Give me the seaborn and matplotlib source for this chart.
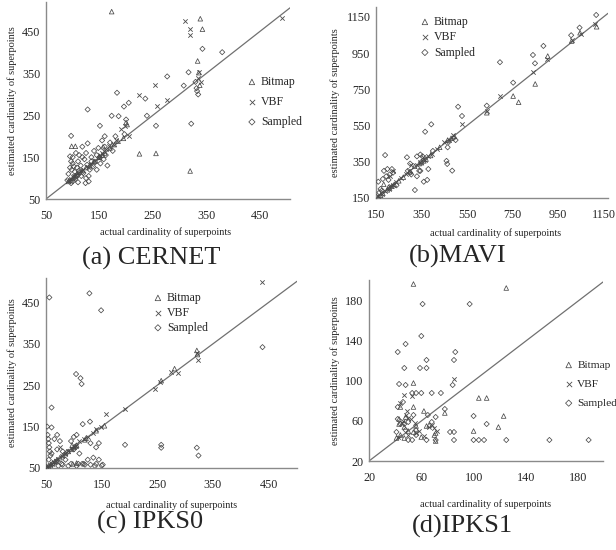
import numpy as np
import pandas as pd
import matplotlib
matplotlib.use("Agg")
import matplotlib.pyplot as plt
import seaborn as sns

# (actual, estimated) pairs
cernet_bitmap = [(98, 176), (105, 176), (173, 498), (339, 481), (343, 456), (334, 380), (336, 352),
                 (338, 322), (225, 158), (256, 159), (320, 117), (200, 233), (202, 228), (92, 92),
                 (95, 95), (100, 100), (102, 103), (105, 106), (108, 110), (112, 114), (118, 118),
                 (125, 125), (132, 130), (140, 140), (150, 150), (155, 155), (157, 175), (160, 160),
                 (170, 172), (178, 180), (185, 188), (195, 195)]
cernet_vbf = [(311, 475), (319, 456), (320, 442), (337, 353), (334, 340), (340, 330), (254, 322),
              (225, 298), (276, 286), (258, 272), (492, 483), (92, 93), (96, 97), (100, 102),
              (103, 104), (107, 108), (110, 112), (115, 116), (120, 120), (128, 126), (135, 133),
              (142, 140), (150, 148), (152, 155), (155, 160), (158, 165), (162, 170), (168, 176),
              (175, 182), (182, 190), (190, 218), (198, 224), (205, 200)]
cernet_sampled = [(380, 401), (343, 409), (317, 353), (277, 343), (322, 230), (183, 304), (128, 264),
                  (239, 249), (256, 225), (97, 201), (205, 280), (173, 249), (308, 321), (333, 308),
                  (332, 315), (151, 225), (196, 271), (200, 240), (197, 205), (186, 248), (330, 330),
                  (335, 300), (236, 290), (90, 95), (92, 110), (95, 152), (97, 88), (98, 120),
                  (100, 135), (100, 92), (102, 128), (104, 115), (105, 98), (106, 160), (108, 125),
                  (110, 140), (110, 90), (112, 118), (115, 130), (116, 105), (118, 150), (120, 112),
                  (122, 145), (124, 88), (125, 160), (127, 132), (128, 183), (130, 92), (132, 120),
                  (135, 150), (138, 128), (140, 165), (142, 138), (145, 120), (148, 172), (150, 150),
                  (152, 135), (155, 190), (158, 145), (160, 175), (162, 155), (165, 130), (170, 185),
                  (175, 165), (180, 200), (100, 150), (95, 125), (108, 105), (118, 175), (130, 105),
                  (145, 155), (160, 200), (97, 140), (112, 155), (125, 100), (135, 140)]

mavi_bitmap = [(160, 155), (170, 165), (180, 175), (184, 226), (200, 195), (210, 205), (220, 215),
               (230, 225), (250, 245), (270, 265), (300, 295), (320, 325), (340, 340), (350, 345),
               (360, 355), (370, 365), (390, 385), (430, 430), (465, 470), (480, 480), (495, 490),
               (637, 621), (753, 713), (777, 679), (850, 780), (905, 934), (1010, 1017),
               (1047, 1063), (1120, 1096), (205, 210)]
mavi_vbf = [(160, 160), (175, 172), (190, 188), (205, 200), (215, 215), (225, 222), (240, 240),
            (260, 258), (280, 280), (295, 300), (305, 330), (330, 330), (345, 350), (355, 375),
            (365, 360), (380, 380), (395, 395), (420, 420), (450, 460), (470, 470), (490, 500),
            (528, 559), (640, 630), (693, 713), (840, 848), (900, 920), (1010, 1020), (1050, 1055),
            (1115, 1110), (210, 270), (225, 300)]
mavi_sampled = [(695, 900), (637, 660), (753, 787), (886, 990), (840, 940), (849, 894), (1008, 1049),
                (1045, 1091), (1118, 1161), (511, 654), (528, 603), (393, 557), (366, 516), (190, 387),
                (286, 375), (321, 194), (463, 338), (485, 301), (470, 460), (465, 430), (460, 355),
                (160, 240), (170, 200), (180, 255), (185, 300), (195, 270), (200, 310), (205, 250),
                (210, 280), (220, 310), (225, 290), (240, 220), (175, 190), (165, 180), (290, 300),
                (300, 290), (305, 280), (330, 270), (345, 300), (350, 350), (355, 380), (360, 240),
                (375, 250), (380, 310), (345, 390), (330, 380), (300, 340), (340, 300), (400, 410),
                (490, 480), (500, 470)]

ipks0_bitmap = [(52, 52), (55, 55), (58, 58), (62, 62), (66, 66), (70, 70), (75, 75), (80, 80),
                (85, 85), (90, 90), (95, 95), (97, 105), (100, 100), (103, 103), (105, 105),
                (120, 118), (122, 122), (140, 140), (155, 152), (257, 261), (281, 290), (321, 334),
                (322, 324), (98, 60), (105, 62)]
ipks0_vbf = [(439, 500), (323, 312), (255, 258), (275, 283), (287, 280), (245, 241), (192, 192),
             (158, 180), (140, 145), (52, 52), (54, 54), (57, 57), (60, 60), (64, 64), (68, 68),
             (72, 72), (78, 78), (84, 84), (90, 90), (96, 96), (100, 100), (104, 104), (110, 115),
             (118, 121), (125, 125), (135, 135), (148, 150), (75, 100), (322, 328)]
ipks0_sampled = [(56, 462), (128, 472), (149, 431), (104, 277), (112, 267), (114, 253), (439, 342),
                 (60, 196), (192, 106), (257, 106), (257, 99), (321, 99), (324, 80), (129, 162),
                 (116, 156), (52, 150), (53, 130), (54, 120), (55, 110), (56, 100), (57, 90),
                 (58, 80), (60, 148), (62, 60), (65, 120), (68, 65), (70, 130), (72, 55), (75, 115),
                 (78, 60), (80, 90), (85, 70), (90, 55), (95, 60), (100, 125), (105, 55), (108, 60),
                 (110, 85), (115, 60), (120, 58), (125, 70), (130, 58), (135, 75), (138, 55),
                 (140, 60), (145, 110), (150, 56), (55, 70), (60, 85), (70, 95), (80, 58), (95, 115),
                 (100, 95), (105, 130), (118, 60), (140, 100), (145, 70), (152, 58), (130, 110),
                 (88, 88)]

ipks1_bitmap = [(54, 197), (125, 193), (104, 83), (110, 83), (100, 50), (119, 54), (123, 65),
                (62, 70), (54, 98), (54, 74), (64, 55), (70, 46), (78, 68), (44, 74), (43, 62),
                (43, 57), (44, 46), (47, 43), (50, 50), (54, 49), (56, 52), (56, 55), (41, 43),
                (47, 54), (60, 44), (66, 56), (71, 48), (71, 40), (48, 64)]
ipks1_vbf = [(85, 102), (47, 86), (44, 78), (50, 63), (52, 62), (53, 85), (70, 53), (68, 56),
             (56, 48), (58, 50), (46, 60), (48, 66), (45, 58), (42, 44), (50, 46), (62, 45),
             (66, 54), (72, 50), (55, 58), (49, 70)]
ipks1_sampled = [(97, 177), (61, 177), (60, 145), (48, 137), (42, 129), (86, 129), (64, 121),
                 (85, 121), (47, 113), (59, 113), (64, 113), (48, 96), (43, 97), (84, 96), (53, 88),
                 (56, 88), (60, 88), (68, 88), (75, 88), (78, 72), (100, 65), (110, 57), (64, 41),
                 (71, 41), (82, 49), (85, 49), (85, 41), (100, 41), (104, 41), (108, 41), (125, 41),
                 (158, 41), (188, 41), (42, 62), (44, 57), (48, 51), (50, 41), (53, 41), (56, 46),
                 (47, 57), (46, 79), (42, 74), (54, 66), (65, 66), (71, 64), (68, 59), (41, 49),
                 (50, 59)]

method_names = ["Bitmap", "VBF", "Sampled"]
panel_titles = ["(a) CERNET", "(b)MAVI", "(c) IPKS0", "(d)IPKS1"]
panel_ticks = [[50, 150, 250, 350, 450],
               [150, 350, 550, 750, 950, 1150],
               [50, 150, 250, 350, 450],
               [20, 60, 100, 140, 180]]
panel_xlim = [(50, 507), (150, 1170), (50, 501), (20, 199)]
panel_ylim = [(50, 521), (150, 1205), (50, 509), (20, 201)]

panel_data = [
    [cernet_bitmap, cernet_vbf, cernet_sampled],
    [mavi_bitmap, mavi_vbf, mavi_sampled],
    [ipks0_bitmap, ipks0_vbf, ipks0_sampled],
    [ipks1_bitmap, ipks1_vbf, ipks1_sampled],
]


def to_frame(series):
    rows = []
    for name, pts in zip(method_names, series):
        for a, e in pts:
            rows.append({"actual": a, "estimated": e, "method": name})
    return pd.DataFrame(rows)


sns.set_style("white")
plt.rcParams["font.family"] = ["Liberation Serif", "DejaVu Serif"]

W, H = 616, 550
fig = plt.figure(figsize=(W / 100, H / 100), dpi=100)

# axes boxes in pixels: left, top, right, bottom
boxes = [(46, 2, 290, 199), (376, 7, 608, 198), (46, 278, 297, 468), (369, 280, 603, 461)]
ylab_x = [12, 335, 12, 335]
xlab_pos = [(166, 232), (496, 233), (172, 505), (486, 504)]
title_pos = [(151, 258), (458, 256), (150, 522), (462, 526)]
legend_pos = [(246, 76), (419, 16), (152, 292), (563, 360)]
legend_space = [0.68, 0.28, 0.25, 0.8]
legend_font = [8.5, 8.5, 8.5, 8.2]

markers = {"Bitmap": "^", "VBF": "x", "Sampled": "D"}
sizes = {"Bitmap": 11, "VBF": 10, "Sampled": 7}
ink = "#4a4a4a"

for i in range(4):
    l, t, r, b = boxes[i]
    ax = fig.add_axes([l / W, 1 - b / H, (r - l) / W, (b - t) / H])
    df = to_frame(panel_data[i])

    lo = max(panel_xlim[i][0], panel_ylim[i][0])
    hi = min(panel_xlim[i][1], panel_ylim[i][1])
    ax.plot([lo, hi], [lo, hi], color="#707070", lw=0.9, zorder=1)

    for name in method_names:
        sub = df[df["method"] == name]
        if markers[name] == "x":
            sns.scatterplot(data=sub, x="actual", y="estimated", marker="x", s=sizes[name],
                            color=ink, linewidth=0.6, ax=ax, label=name, zorder=3)
        else:
            sns.scatterplot(data=sub, x="actual", y="estimated", marker=markers[name],
                            s=sizes[name], color=ink, facecolor="none", edgecolor=ink,
                            linewidth=0.55, ax=ax, label=name, zorder=3)

    ax.set_xlim(*panel_xlim[i])
    ax.set_ylim(*panel_ylim[i])
    ax.set_xticks(panel_ticks[i])
    ax.set_yticks(panel_ticks[i])
    ax.tick_params(axis="both", length=0, labelsize=8.7)
    ax.tick_params(axis="x", pad=8)
    ax.tick_params(axis="y", pad=4)
    ax.set_xlabel("")
    ax.set_ylabel("")
    sns.despine(ax=ax)
    for s in ["left", "bottom"]:
        ax.spines[s].set_color("#8a8a8a")
        ax.spines[s].set_linewidth(1.0)

    lx, ly = legend_pos[i]
    ax.legend(loc="upper left", bbox_to_anchor=(lx / W, 1 - ly / H), bbox_transform=fig.transFigure,
              frameon=False, fontsize=legend_font[i], borderpad=0, handlelength=1.0,
              handletextpad=0.25, labelspacing=legend_space[i], borderaxespad=0, markerscale=1.2)

    fig.text(ylab_x[i] / W, 1 - ((t + b) / 2) / H, "estimated cardinality of superpoints",
             rotation=90, ha="center", va="center", fontsize=7.5)
    fig.text(xlab_pos[i][0] / W, 1 - xlab_pos[i][1] / H, "actual cardinality of superpoints",
             ha="center", va="center", fontsize=7.3)
    fig.text(title_pos[i][0] / W, 1 - title_pos[i][1] / H, panel_titles[i],
             ha="center", va="center", fontsize=19)

fig.savefig("out.png", dpi=100)
